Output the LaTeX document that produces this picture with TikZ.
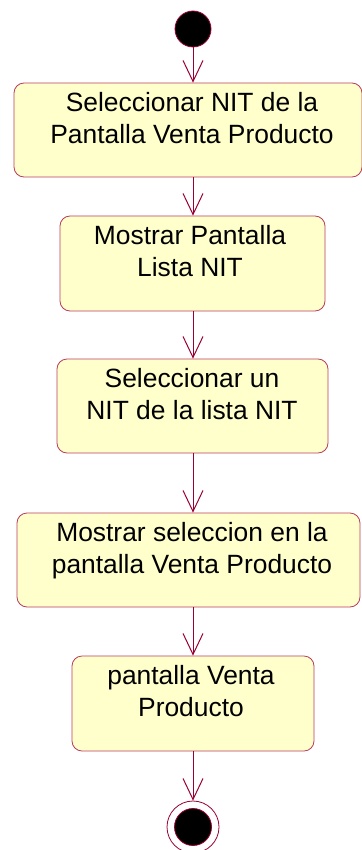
\documentclass[tikz,border=0pt]{standalone}
\usepackage{fontspec}
\setmainfont{Liberation Sans}
\usetikzlibrary{arrows.meta,positioning}
\definecolor{flowmaroon}{RGB}{153,0,51}
\definecolor{boxedge}{RGB}{185,60,95}
\definecolor{boxfill}{RGB}{255,255,204}

\begin{document}
\begin{tikzpicture}[x=1pt,y=-1pt,
  actbox/.style={draw=boxedge,fill=boxfill,rounded corners=10pt,line width=0.8pt,inner sep=0pt},
  acttext/.style={anchor=north,align=center,inner sep=0pt,font=\fontsize{26.4}{32.5}\selectfont},
  flow/.style={-{Straight Barb[length=21pt,width=20pt]},flowmaroon,line width=1pt}]

\useasboundingbox (0,0) rectangle (361,850);

%% ── start / end states ──────────────────────────────────────────────
\node[circle,fill=black,draw=flowmaroon,line width=0.8pt,minimum size=36pt,inner sep=0pt]
  (start) at (193,29) {};
\node[circle,draw=flowmaroon,line width=0.8pt,minimum size=52pt,inner sep=0pt]
  (fin) at (193,827) {};
\node[circle,fill=black,draw=flowmaroon,line width=0.8pt,minimum size=37pt,inner sep=0pt]
  (finin) at (193,827) {};

%% ── activity boxes ──────────────────────────────────────────────────
\node[actbox,minimum width=348pt,minimum height=94pt] (selnit) at (188,130) {};
\node[acttext] (selnittxt) at (192,92) {Seleccionar NIT de la\\Pantalla Venta Producto};

\node[actbox,minimum width=265pt,minimum height=95pt] (mostrar) at (192.5,263.5) {};
\node[acttext] (mostrartxt) at (190,225) {Mostrar Pantalla\\Lista NIT};

\node[actbox,minimum width=271pt,minimum height=94pt] (selun) at (192.5,406) {};
\node[acttext] (seluntxt) at (192,368) {Seleccionar un\\NIT de la lista NIT};

\node[actbox,minimum width=343pt,minimum height=94pt] (mostrasel) at (188.5,560) {};
\node[acttext] (mostraseltxt) at (192,522) {Mostrar seleccion en la\\pantalla Venta Producto};

\node[actbox,minimum width=242pt,minimum height=95pt] (pantalla) at (193,703.5) {};
\node[acttext] (pantallatxt) at (191,665) {pantalla Venta\\Producto};

%% ── transitions ─────────────────────────────────────────────────────
\draw[flow] (start.south) -- (start |- selnit.north);
\draw[flow] (selnit.south -| start) -- (start |- mostrar.north);
\draw[flow] (mostrar.south -| start) -- (start |- selun.north);
\draw[flow] (selun.south -| start) -- (start |- mostrasel.north);
\draw[flow] (mostrasel.south -| start) -- (start |- pantalla.north);
\draw[flow] (pantalla.south -| start) -- (fin.north);

\end{tikzpicture}
\end{document}
